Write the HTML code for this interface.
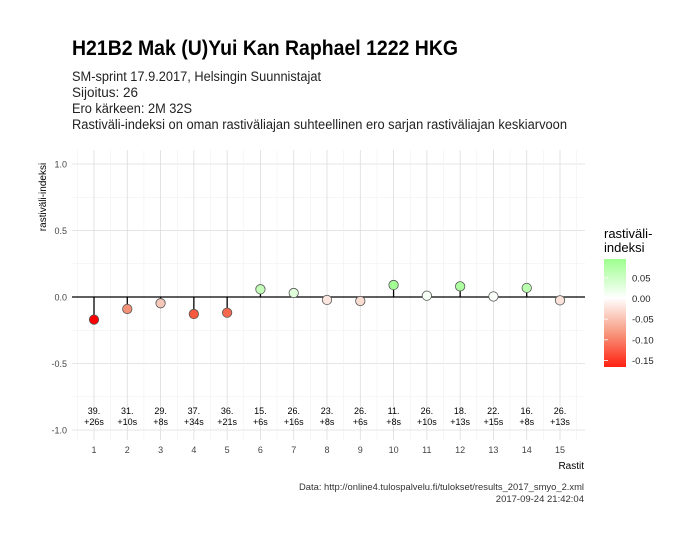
<!DOCTYPE html>
<html><head><meta charset="utf-8"><style>
body{margin:0;background:#fff;font-family:"Liberation Sans",sans-serif;}
svg text{font-family:"Liberation Sans",sans-serif;}
</style></head><body>
<svg id="c" width="697" height="540" xmlns="http://www.w3.org/2000/svg">
<rect width="697" height="540" fill="#fff"/>
<text x="72" y="55" font-size="21" font-weight="bold" fill="#000" textLength="386" lengthAdjust="spacingAndGlyphs">H21B2 Mak (U)Yui Kan Raphael 1222 HKG</text>
<g font-size="13.5" fill="#222">
<text x="72" y="81" textLength="249" lengthAdjust="spacingAndGlyphs">SM-sprint 17.9.2017, Helsingin Suunnistajat</text>
<text x="72" y="97" textLength="66" lengthAdjust="spacingAndGlyphs">Sijoitus: 26</text>
<text x="72" y="113" textLength="120" lengthAdjust="spacingAndGlyphs">Ero kärkeen: 2M 32S</text>
<text x="72" y="129" textLength="495" lengthAdjust="spacingAndGlyphs">Rastiväli-indeksi on oman rastiväliajan suhteellinen ero sarjan rastiväliajan keskiarvoon</text>
</g>
<g id="grid"></g>
<g id="marks"></g>
<text x="46" y="197" font-size="10" fill="#000" transform="rotate(-90 46 197)" text-anchor="middle">rastiväli-indeksi</text>
<text x="584" y="469" font-size="10" fill="#000" text-anchor="end">Rastit</text>
<text x="604" y="238" font-size="13" fill="#000">rastiväli-</text>
<text x="604" y="252" font-size="13" fill="#000">indeksi</text>
<defs><linearGradient id="lg" x1="0" y1="0" x2="0" y2="1">
<stop offset="0" stop-color="#9eff8e"/><stop offset="0.36" stop-color="#ffffff"/><stop offset="0.68" stop-color="#f79a80"/><stop offset="1" stop-color="#ff2010"/>
</linearGradient></defs>
<rect x="604" y="259" width="22" height="108" fill="url(#lg)"/>
<g id="leg"></g>
<text x="584" y="490" font-size="9.5" fill="#333" text-anchor="end" textLength="285" lengthAdjust="spacingAndGlyphs">Data: http://online4.tulospalvelu.fi/tulokset/results_2017_smyo_2.xml</text>
<text x="584" y="502" font-size="9.5" fill="#333" text-anchor="end">2017-09-24 21:42:04</text>
</svg>
<script>
const controls=[1,2,3,4,5,6,7,8,9,10,11,12,13,14,15];
const values=[-0.17,-0.09,-0.047,-0.128,-0.118,0.058,0.03,-0.022,-0.03,0.09,0.01,0.08,0.004,0.068,-0.025];
const ranks=["39.","31.","29.","37.","36.","15.","26.","23.","26.","11.","26.","18.","22.","16.","26."];
const diffs=["+26s","+10s","+8s","+34s","+21s","+6s","+16s","+8s","+6s","+8s","+10s","+13s","+15s","+8s","+13s"];
const yTicks=[-1,-0.5,0,0.5,1];
const yTickLabels=["-1.0","-0.5","0.0","0.5","1.0"];
const legTicks=[0.05,0,-0.05,-0.1,-0.15];
const legLabels=["0.05","0.00","-0.05","-0.10","-0.15"];
const NS="http://www.w3.org/2000/svg";
const X=v=>94+(v-1)*(560-94)/14;
const Y=v=>297-v*133;
const LY=v=>298.5-v*413;
function mk(t,a,p){const e=document.createElementNS(NS,t);for(const k in a)e.setAttribute(k,a[k]);p.appendChild(e);return e;}
function col(v){let r,g,b;if(v<0){const t=Math.min(1,-v/0.17);r=Math.round(255-12*Math.sin(t*Math.PI));g=Math.round(255*Math.pow(1-t,0.75));b=Math.round(255*(1-t));}else{const t=Math.min(1,v/0.095);r=Math.round(255-(255-158)*t);g=255;b=Math.round(255-(255-142)*t);}return `rgb(${r},${g},${b})`;}
const grid=document.getElementById('grid'),marks=document.getElementById('marks'),leg=document.getElementById('leg');
for(let v=-1;v<=1.001;v+=0.25){const major=Math.abs(v*2-Math.round(v*2))<0.01;const l=mk('line',{x1:72,x2:585,y1:Y(v),y2:Y(v),stroke:major?'#dcdcdc':'#eeeeee','stroke-width':major?0.8:0.5},grid);

}
for(let c=0.5;c<=15.5;c+=0.5){const major=c%1===0;const l=mk('line',{x1:X(c),x2:X(c),y1:150,y2:440,stroke:major?'#dcdcdc':'#eeeeee','stroke-width':major?0.8:0.5},grid);

}
yTicks.forEach((v,i)=>{const t=mk('text',{x:67,y:Y(v)+3.5,'font-size':9,fill:'#444','text-anchor':'end'},grid);t.textContent=yTickLabels[i];

});
const zl=mk('line',{x1:72,x2:585,y1:Y(0),y2:Y(0),stroke:'#000','stroke-width':1.3},marks);


controls.forEach((c,i)=>{const v=values[i],x=X(c);
const s=mk('line',{x1:x,x2:x,y1:Y(0),y2:Y(v),stroke:'#000','stroke-width':1.3},marks);


const p=mk('circle',{cx:x,cy:Y(v),r:4.7,fill:col(v),stroke:'#555','stroke-width':0.8},marks);


const t1=mk('text',{x:x,y:414,'font-size':9,fill:'#000','text-anchor':'middle'},marks);t1.textContent=ranks[i];


const t2=mk('text',{x:x,y:425,'font-size':9,fill:'#000','text-anchor':'middle'},marks);t2.textContent=diffs[i];


const xt=mk('text',{x:x,y:453,'font-size':9,fill:'#444','text-anchor':'middle'},marks);xt.textContent=c;

});
legTicks.forEach((v,i)=>{const y=LY(v);
const a=mk('line',{x1:604,x2:608,y1:y,y2:y,stroke:'#fff','stroke-width':0.8},leg);


const t=mk('text',{x:632,y:y+3.5,'font-size':9.5,fill:'#222'},leg);t.textContent=legLabels[i];

});
</script>
</body></html>
